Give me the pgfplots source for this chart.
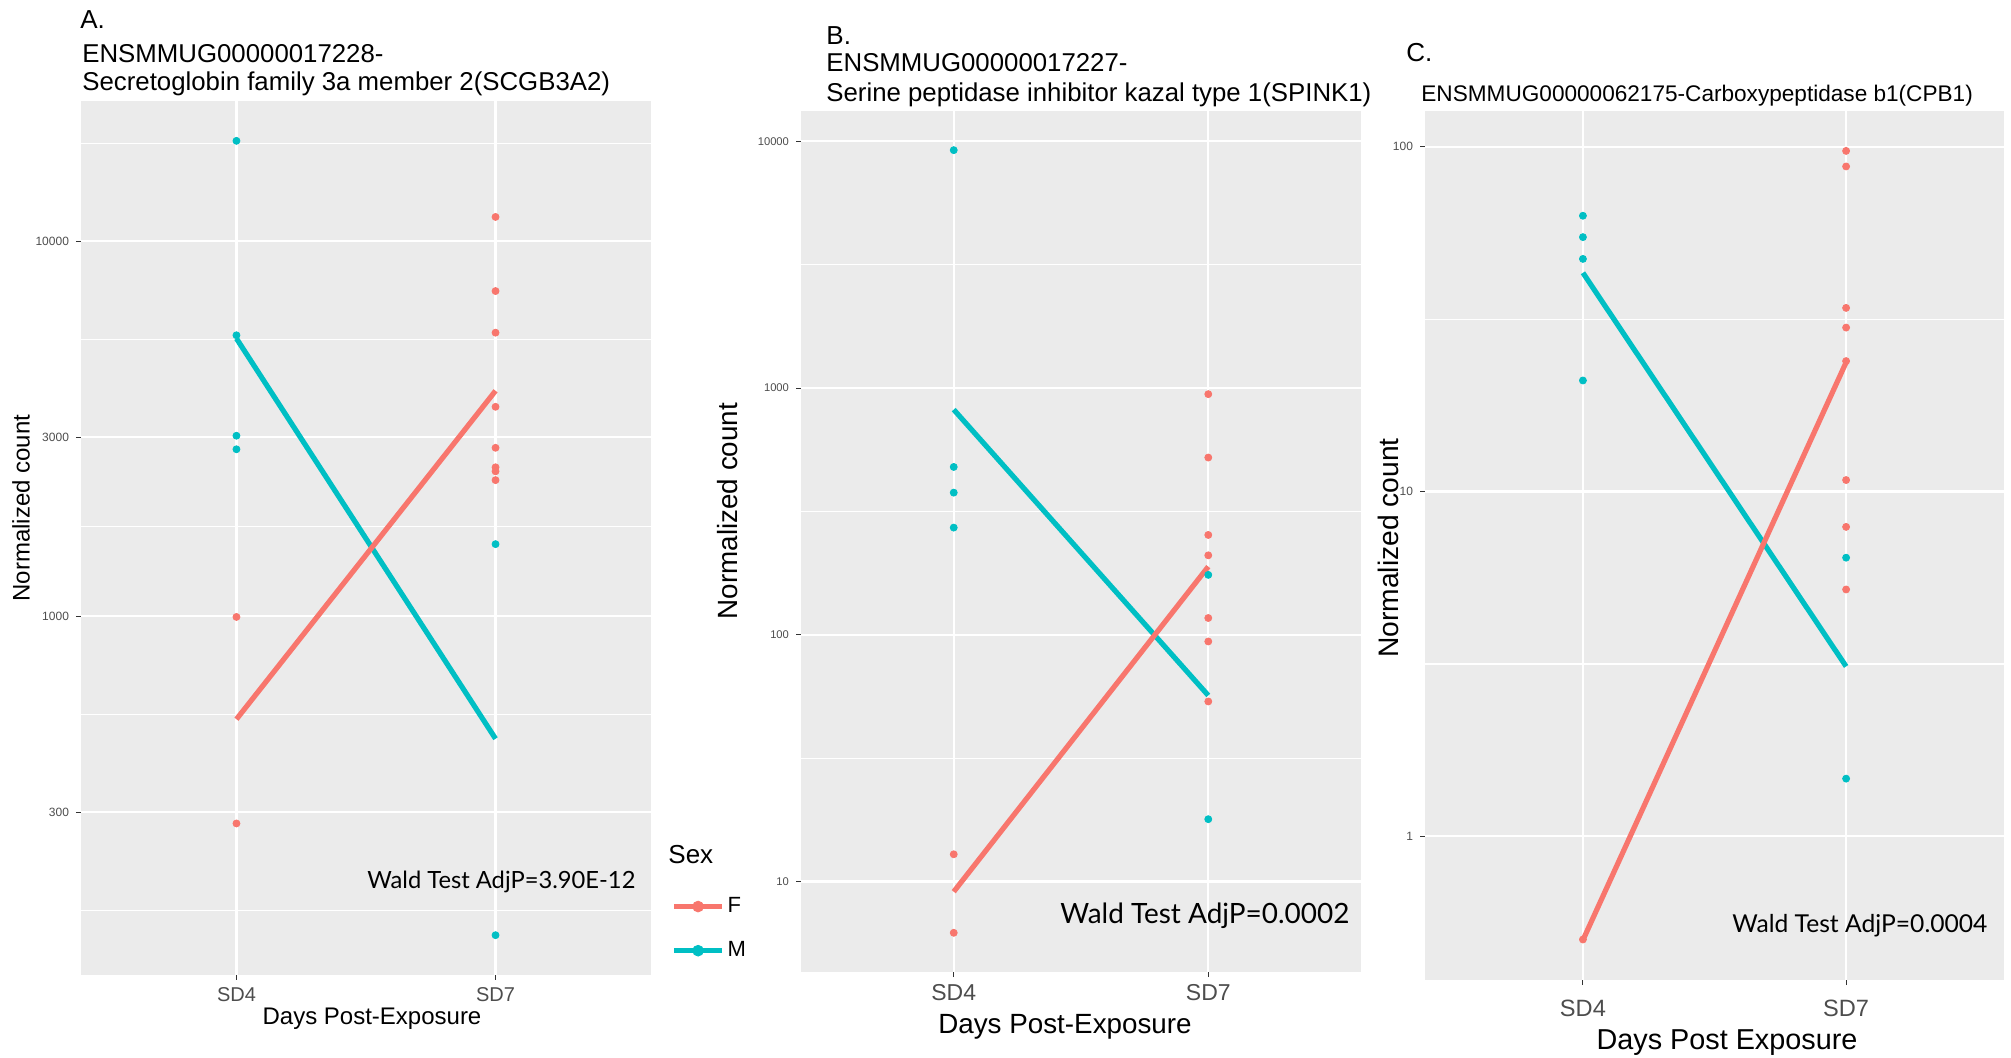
\documentclass[border=0pt]{standalone}
\usepackage{fontspec}
\setmainfont{Liberation Sans}
\newfontfamily\waldfont{Lato}
\usepackage{graphicx}
\usepackage{pgfplots}
\pgfplotsset{compat=1.18}
\definecolor{ggred}{HTML}{F8766D}
\definecolor{ggcyan}{HTML}{00BFC4}
\definecolor{ggbg}{HTML}{EBEBEB}
\definecolor{ggtick}{HTML}{4D4D4D}
\definecolor{ggtickmark}{HTML}{333333}
\newcommand{\fsz}[1]{\fontsize{#1}{#1}\selectfont}
\begin{document}
\begin{tikzpicture}
\begin{scope}[x=0.5pt,y=-0.5pt]
\useasboundingbox (0,0) rectangle (2011,1057);
\end{scope}

% ---------------- Panel A ----------------
\begin{axis}[
  scale only axis, ymode=log,
  xmin=-0.6, xmax=1.6,
  xtick={0,1}, xticklabels={SD4,SD7},
  axis background/.style={fill=ggbg},
  axis line style={draw=none},
  xmajorgrids, ymajorgrids, yminorgrids,
  major grid style={white, line width=1.1pt},
  minor grid style={white, line width=0.55pt},
  tick style={ggtickmark, line width=0.5pt},
  major tick length=2.5pt, minor tick length=0pt,
  tick align=outside, xtick pos=bottom, ytick pos=left,
  at={(40.5pt,-487.5pt)}, anchor=south west,
  width=285pt, height=437pt,
  ymin=110.4, ymax=23640,
  ytick={300,1000,3000,10000}, yticklabels={300,1000,3000,10000},
  minor ytick={164.3,547.7,1732,5477,18260},
  yticklabel style={font=\fsz{6}, text=ggtick},
  xticklabel style={font=\fsz{10}, text=ggtick},
]
\addplot[only marks, mark=*, mark size=1.75pt, ggcyan] coordinates {(0,18510) (0,5610) (0,3027) (0,2786) (1,1556) (1,141)};
\addplot[only marks, mark=*, mark size=1.75pt, ggred] coordinates {(0,995) (0,280) (1,11600) (1,7360) (1,5700) (1,3616) (1,2811) (1,2494) (1,2433) (1,2305)};
\addplot[line width=2.6pt, no marks, ggcyan] coordinates {(0,5500) (1,471)};
\addplot[line width=2.6pt, no marks, ggred] coordinates {(0,531) (1,3990)};
\end{axis}

% ---------------- Panel B ----------------
\begin{axis}[
  scale only axis, ymode=log,
  xmin=-0.6, xmax=1.6,
  xtick={0,1}, xticklabels={SD4,SD7},
  axis background/.style={fill=ggbg},
  axis line style={draw=none},
  xmajorgrids, ymajorgrids, yminorgrids,
  major grid style={white, line width=1.1pt},
  minor grid style={white, line width=0.55pt},
  tick style={ggtickmark, line width=0.5pt},
  major tick length=2.5pt, minor tick length=0pt,
  tick align=outside, xtick pos=bottom, ytick pos=left,
  at={(400.5pt,-486pt)}, anchor=south west,
  width=280pt, height=430.5pt,
  ymin=4.3, ymax=13270,
  ytick={10,100,1000,10000}, yticklabels={10,100,1000,10000},
  minor ytick={31.62,316.2,3162},
  yticklabel style={font=\fsz{5.6}, text=ggtick},
  xticklabel style={font=\fsz{11.5}, text=ggtick},
  legend style={draw=none, fill=none, inner sep=0pt, at={(-0.2320,0.0504)}, anchor=west,
    row sep=10pt, font=\fsz{11}, nodes={inner sep=1.5pt}},
  legend cell align=left,
  legend image code/.code={\draw[#1, line width=2.6pt] (0pt,0pt) -- (24pt,0pt); \fill[#1] (12pt,0pt) circle (2.7pt);},
]
\addplot[only marks, mark=*, mark size=1.75pt, ggcyan, forget plot] coordinates {(0,9210) (0,479) (0,377) (0,272) (1,175) (1,17.9)};
\addplot[only marks, mark=*, mark size=1.75pt, ggred, forget plot] coordinates {(0,12.9) (0,6.2) (1,945) (1,523) (1,254) (1,210) (1,117) (1,94) (1,53.7)};
\addplot[line width=2.6pt, no marks, ggcyan, forget plot] coordinates {(0,818) (1,56.8)};
\addplot[line width=2.6pt, no marks, ggred, forget plot] coordinates {(0,9.1) (1,189)};
\addlegendimage{ggred}\addlegendentry{F}
\addlegendimage{ggcyan}\addlegendentry{M}
\end{axis}

% ---------------- Panel C ----------------
\begin{axis}[
  scale only axis, ymode=log,
  xmin=-0.6, xmax=1.6,
  xtick={0,1}, xticklabels={SD4,SD7},
  axis background/.style={fill=ggbg},
  axis line style={draw=none},
  xmajorgrids, ymajorgrids, yminorgrids,
  major grid style={white, line width=1.1pt},
  minor grid style={white, line width=0.55pt},
  tick style={ggtickmark, line width=0.5pt},
  major tick length=2.5pt, minor tick length=0pt,
  tick align=outside, xtick pos=bottom, ytick pos=left,
  at={(712.5pt,-490pt)}, anchor=south west,
  width=289.5pt, height=434.5pt,
  ymin=0.383, ymax=127,
  ytick={1,10,100}, yticklabels={1,10,100},
  minor ytick={3.162,31.62},
  yticklabel style={font=\fsz{6}, text=ggtick},
  xticklabel style={font=\fsz{11.8}, text=ggtick, yshift=-4pt},
]
\addplot[only marks, mark=*, mark size=1.75pt, ggcyan] coordinates {(0,63.1) (0,54.7) (0,47.3) (0,21.0) (1,6.43) (1,1.47)};
\addplot[only marks, mark=*, mark size=1.75pt, ggred] coordinates {(0,0.502) (1,97.3) (1,87.7) (1,34.1) (1,29.9) (1,23.9) (1,10.8) (1,7.9) (1,5.2)};
\addplot[line width=2.6pt, no marks, ggcyan] coordinates {(0,43.1) (1,3.11)};
\addplot[line width=2.6pt, no marks, ggred] coordinates {(0,0.5) (1,23.7)};
\end{axis}

\begin{scope}[x=0.5pt,y=-0.5pt]
% titles
\node[anchor=base west, inner sep=0, font=\fsz{13}] at (80,28) {A.};
\node[anchor=base west, inner sep=0, font=\fsz{12.9}] at (82,62) {ENSMMUG00000017228-};
\node[anchor=base west, inner sep=0, font=\fsz{12.9}] at (82,90) {Secretoglobin family 3a member 2(SCGB3A2)};
\node[anchor=base west, inner sep=0, font=\fsz{13}] at (826,44) {B.};
\node[anchor=base west, inner sep=0, font=\fsz{12.9}] at (826,71) {ENSMMUG00000017227-};
\node[anchor=base west, inner sep=0, font=\fsz{12.9}] at (826,101) {Serine peptidase inhibitor kazal type 1(SPINK1)};
\node[anchor=base west, inner sep=0, font=\fsz{13}] at (1406,61) {C.};
\node[anchor=base west, inner sep=0, font=\fsz{11.3}] at (1421,101) {ENSMMUG00000062175-Carboxypeptidase b1(CPB1)};
% x labels
\node[anchor=base, inner sep=0, font=\fsz{12}] at (372,1024) {Days Post-Exposure};
\node[anchor=base, inner sep=0, font=\fsz{13.9}] at (1065,1033) {Days Post-Exposure};
\node[anchor=base, inner sep=0, font=\fsz{14.4}] at (1727,1049) {Days Post Exposure};
% y labels
\node[rotate=90, inner sep=0, font=\fsz{12}] at (21,508) {Normalized count};
\node[rotate=90, inner sep=0, font=\fsz{13.9}] at (728,511) {Normalized count};
\node[rotate=90, inner sep=0, font=\fsz{14.1}] at (1388,548) {Normalized count};
% Wald tests
\node[anchor=west, inner sep=0] at (367,882) {\resizebox{134pt}{!}{\waldfont Wald Test AdjP=3.90E-12}};
\node[anchor=west, inner sep=0] at (1060,916) {\resizebox{144.5pt}{!}{\waldfont Wald Test AdjP=0.0002}};
\node[anchor=west, inner sep=0] at (1732,926) {\resizebox{127.5pt}{!}{\waldfont Wald Test AdjP=0.0004}};
% legend title
\node[anchor=west, inner sep=0, font=\fsz{13}] at (668,855) {Sex};
\end{scope}
\end{tikzpicture}
\end{document}
